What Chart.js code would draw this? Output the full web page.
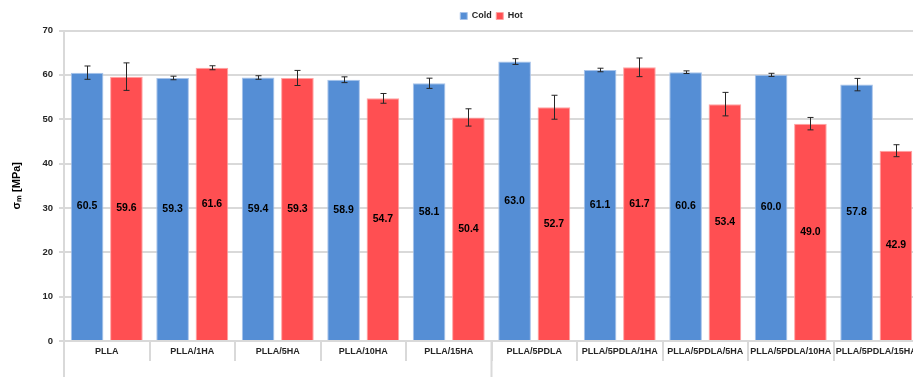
<!DOCTYPE html>
<html>
<head>
<meta charset="utf-8">
<script src="https://cdn.jsdelivr.net/npm/chart.js@4.4.1/dist/chart.umd.min.js"></script>
<style>
    html, body { margin: 0; padding: 0; background: #fff; overflow: hidden; }
    #wrap { width: 922px; height: 377px; }
</style>
</head>
<body>
<div id="wrap"><canvas id="grafico-resistencia"></canvas></div>
<script>
// Amostras e resistência média (MPa) para cada condição
const categorias = ['PLLA', 'PLLA/1HA', 'PLLA/5HA', 'PLLA/10HA', 'PLLA/15HA',
    'PLLA/5PDLA', 'PLLA/5PDLA/1HA', 'PLLA/5PDLA/5HA', 'PLLA/5PDLA/10HA', 'PLLA/5PDLA/15HA'];
const valoresCold = [60.5, 59.3, 59.4, 58.9, 58.1, 63.0, 61.1, 60.6, 60.0, 57.8];
const valoresHot = [59.6, 61.6, 59.3, 54.7, 50.4, 52.7, 61.7, 53.4, 49.0, 42.9];
// Desvio padrão (barras de erro)
const erroCold = [1.5, 0.4, 0.4, 0.65, 1.15, 0.65, 0.4, 0.3, 0.35, 1.4];
const erroHot = [3.1, 0.45, 1.7, 1.1, 1.95, 2.7, 2.1, 2.65, 1.4, 1.35];
const ticksY = [0, 10, 20, 30, 40, 50, 60, 70];

const corGrade = '#d9d9d9';
const fonte = '"Liberation Sans", Arial, sans-serif';

// Barras de erro e rótulo de valor no meio de cada barra
const barrasDeErro = {
    id: 'barrasDeErro',
    afterDatasetsDraw(chart) {
        const ctx = chart.ctx;
        const escalaY = chart.scales.y;
        chart.data.datasets.forEach((ds, i) => {
            const meta = chart.getDatasetMeta(i);
            meta.data.forEach((barra, j) => {
                const valor = ds.data[j];
                const erro = ds.erros[j];
                const x = Math.round(barra.x) + 0.5;
                const topo = escalaY.getPixelForValue(valor + erro);
                const base = escalaY.getPixelForValue(valor - erro);

                ctx.save();
                ctx.strokeStyle = '#262626';
                ctx.lineWidth = 1;
                ctx.beginPath();
                ctx.moveTo(x, topo);
                ctx.lineTo(x, base);
                ctx.moveTo(x - 3, topo);
                ctx.lineTo(x + 3, topo);
                ctx.moveTo(x - 3, base);
                ctx.lineTo(x + 3, base);
                ctx.stroke();

                ctx.fillStyle = '#000';
                ctx.font = 'bold 10.5px ' + fonte;
                ctx.textAlign = 'center';
                ctx.textBaseline = 'middle';
                ctx.fillText(valor.toFixed(1), barra.x, (barra.y + barra.base) / 2);
                ctx.restore();
            });
        });
    }
};

// Linhas que descem até o fim do gráfico (eixo Y e divisão entre grupos)
const linhasDeGrupo = {
    id: 'linhasDeGrupo',
    afterDraw(chart) {
        const ctx = chart.ctx;
        const escalaX = chart.scales.x;
        const area = chart.chartArea;
        const divisao = (escalaX.getPixelForTick(4) + escalaX.getPixelForTick(5)) / 2;
        ctx.save();
        ctx.strokeStyle = corGrade;
        ctx.lineWidth = 2;
        ctx.beginPath();
        [area.left, divisao].forEach(px => {
            ctx.moveTo(px, area.bottom);
            ctx.lineTo(px, chart.height);
        });
        ctx.stroke();
        ctx.restore();
    }
};

function carregarGrafico() {
    const ctx = document.getElementById('grafico-resistencia').getContext('2d');
    new Chart(ctx, {
        type: 'bar',
        data: {
            labels: categorias,
            datasets: [
                {
                    label: 'Cold',
                    data: valoresCold,
                    erros: erroCold,
                    backgroundColor: '#558ed5',
                    borderColor: '#a7c3ea',
                    borderWidth: 1
                },
                {
                    label: 'Hot',
                    data: valoresHot,
                    erros: erroHot,
                    backgroundColor: '#ff4f52',
                    borderColor: '#ffa3a3',
                    borderWidth: 1
                }
            ]
        },
        options: {
            responsive: true,
            maintainAspectRatio: false,
            animation: false,
            categoryPercentage: 0.92,
            barPercentage: 0.83,
            layout: { padding: { top: 7, left: 0, right: 3, bottom: 0 } },
            plugins: {
                tooltip: { enabled: false },
                legend: {
                    position: 'top',
                    fullSize: false,
                    labels: {
                        boxWidth: 7,
                        boxHeight: 7,
                        padding: 4.5,
                        color: '#262626',
                        font: { family: fonte, size: 9, weight: 'bold' }
                    }
                }
            },
            scales: {
                x: {
                    grid: {
                        offset: true,
                        drawOnChartArea: false,
                        color: corGrade,
                        lineWidth: 2,
                        tickLength: 20
                    },
                    border: { color: corGrade, width: 2 },
                    ticks: {
                        padding: -15,
                        maxRotation: 0,
                        autoSkip: false,
                        color: '#262626',
                        font: { family: fonte, size: 9, weight: 'bold' }
                    },
                    afterFit(escala) { escala.height = 36; }
                },
                y: {
                    min: 0,
                    max: 70,
                    afterBuildTicks(escala) {
                        escala.ticks = ticksY.map(v => ({ value: v }));
                    },
                    grid: { color: corGrade, lineWidth: 2, tickLength: 5 },
                    border: { color: corGrade, width: 2 },
                    ticks: {
                        padding: 6,
                        color: '#262626',
                        font: { family: fonte, size: 9.5, weight: 'bold' }
                    },
                    title: {
                        display: true,
                        text: 'σₘ [MPa]',
                        color: '#000',
                        padding: { top: 10, bottom: 0 },
                        font: { family: fonte, size: 11, weight: 'bold' }
                    },
                    afterFit(escala) { escala.width = 64; }
                }
            }
        },
        plugins: [barrasDeErro, linhasDeGrupo]
    });
}

document.addEventListener('DOMContentLoaded', carregarGrafico);
</script>
</body>
</html>
